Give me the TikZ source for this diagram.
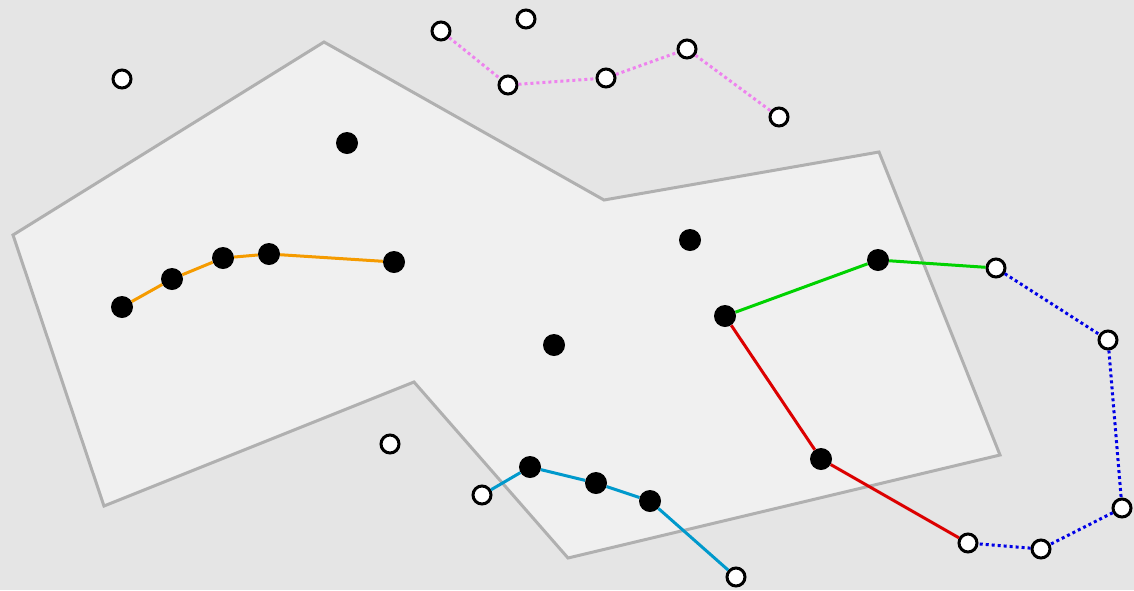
\documentclass[tikz,border=0pt]{standalone}
\usetikzlibrary{positioning}
\definecolor{bgcol}{HTML}{E5E5E5}
\definecolor{polyfill}{HTML}{F0F0F0}
\definecolor{polyedge}{HTML}{B0B0B0}
\definecolor{orangeln}{RGB}{245,155,0}
\definecolor{greenln}{RGB}{0,210,0}
\definecolor{redln}{RGB}{220,0,0}
\definecolor{cyanln}{RGB}{0,153,204}
\definecolor{blueln}{RGB}{0,0,230}
\definecolor{pinkln}{RGB}{238,130,238}
\tikzset{
  fpt/.style={circle, fill=black, inner sep=0pt, minimum size=22pt},
  opt/.style={circle, draw=black, fill=white, line width=3pt, inner sep=0pt, minimum size=18pt},
  seg/.style={line width=3pt},
  dotseg/.style={line width=3pt, dash pattern=on 3pt off 3pt}
}
\begin{document}
\begin{tikzpicture}[x=1pt,y=-1pt]
\fill[bgcol] (0,0) rectangle (1134,590);
\useasboundingbox (0,0) rectangle (1134,590);
\filldraw[fill=polyfill, draw=polyedge, line width=3pt, line join=miter]
  (13,235) -- (324,42) -- (604,200) -- (879,152) -- (1000,455) -- (568,558) -- (414,382) -- (104,506) -- cycle;
% lone points
\node[opt] (q1) at (122,79) {};
\node[opt] (q2) at (526,19) {};
\node[opt] (q3) at (390,444) {};
\node[fpt] (f1) at (347,143) {};
\node[fpt] (f2) at (690,240) {};
\node[fpt] (f3) at (554,345) {};
% orange chain
\node[fpt] (a1) at (122,307) {};
\node[fpt] (a2) at (172,279) {};
\node[fpt] (a3) at (223,258) {};
\node[fpt] (a4) at (269,254) {};
\node[fpt] (a5) at (394,262) {};
\draw[seg, orangeln] (a1) -- (a2) -- (a3) -- (a4) -- (a5);
% green and red
\node[fpt] (r0) at (725,316) {};
\node[fpt] (g1) at (878,260) {};
\node[opt] (g2) at (996,268) {};
\node[fpt] (r1) at (821,459) {};
\node[opt] (r2) at (968,543) {};
\draw[seg, greenln] (r0) -- (g1) -- (g2);
\draw[seg, redln] (r0) -- (r1) -- (r2);
% blue loop
\node[opt] (b1) at (1108,340) {};
\node[opt] (b2) at (1122,508) {};
\node[opt] (b3) at (1041,549) {};
\draw[dotseg, blueln] (g2) -- (b1) -- (b2) -- (b3) -- (r2);
% cyan chain
\node[opt] (c1) at (482,495) {};
\node[fpt] (c2) at (530,467) {};
\node[fpt] (c3) at (596,483) {};
\node[fpt] (c4) at (650,501) {};
\node[opt] (c5) at (736,577) {};
\draw[seg, cyanln] (c1) -- (c2) -- (c3) -- (c4) -- (c5);
% pink chain
\node[opt] (p1) at (441,31) {};
\node[opt] (p2) at (508,85) {};
\node[opt] (p3) at (606,78) {};
\node[opt] (p4) at (687,49) {};
\node[opt] (p5) at (779,117) {};
\draw[dotseg, pinkln] (p1) -- (p2) -- (p3) -- (p4) -- (p5);
\end{tikzpicture}
\end{document}
